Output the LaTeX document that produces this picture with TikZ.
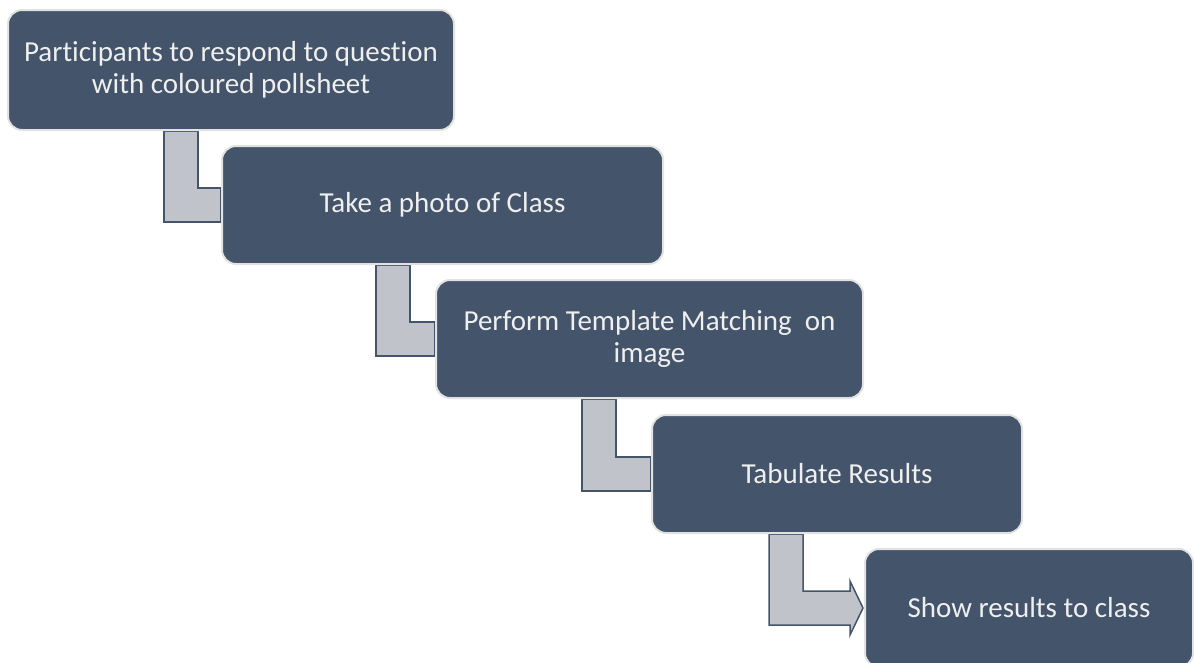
\documentclass[tikz,border=0pt]{standalone}
\usepackage{fontspec}
\setmainfont{Carlito}[Ligatures=NoCommon]
\usepackage{tikz}
\usetikzlibrary{calc, backgrounds}
\definecolor{slate}{HTML}{44546A}
\definecolor{elbowgray}{HTML}{C0C4CA}
\definecolor{rim}{HTML}{E2E2E2}
\definecolor{paper}{HTML}{EFEFEF}

% bent connector: source, target, distance of the bar from the target
\newcommand{\elbow}[3]{%
	\filldraw[conn] ($(#1.south -| #2.west)+(-#3-17,0)$) -- ($(#1.south -| #2.west)+(-#3+17,0)$)
	-- ($(#2.west)+(-#3+17,17)$) -- ($(#2.west)+(0,17)$) -- ($(#2.west)+(0,-17)$)
	-- ($(#2.west)+(-#3-17,-17)$) -- cycle;}

\begin{document}
\begin{tikzpicture}[
			x=1pt, y=1pt,
			stepbox/.style={draw=rim, line width=2pt, fill=slate, rounded corners=14pt,
				minimum height=118pt, inner sep=0pt, align=center, text=paper,
				font=\fontsize{29}{32}\selectfont},
			conn/.style={fill=elbowgray, draw=slate, line width=1.5pt, line join=miter}
			]
			\useasboundingbox (0,0) rectangle (1194,-662);
			\clip (0,0) rectangle (1194,-662);
			
			% Nodes
			\node[stepbox, minimum width=446pt, minimum height=120pt] (poll) at (231,-70)
			{Participants to respond to question\\with coloured pollsheet};
			\node[stepbox, minimum width=441pt] (photo) at (442.5,-205) {Take a photo of Class};
			\node[stepbox, minimum width=427pt] (match) at (649.5,-339)
			{Perform Template Matching\ \ on\\image};
			\node[stepbox, minimum width=370pt] (tab) at (837,-474) {Tabulate Results};
			\node[stepbox, minimum width=328pt] (show) at (1029,-608) {Show results to class};
			
			% Connectors
			\begin{scope}[on background layer]
				\elbow{poll}{photo}{40}
				\elbow{photo}{match}{42}
				\elbow{match}{tab}{52}
				\filldraw[conn] ($(tab.south -| show.west)+(-95,0)$) -- ($(tab.south -| show.west)+(-61,0)$)
				-- ($(show.west)+(-61,17)$) -- ($(show.west)+(-14,17)$) -- ($(show.west)+(-14,27)$)
				-- ($(show.west)+(-1,0)$) -- ($(show.west)+(-14,-27)$) -- ($(show.west)+(-14,-17)$)
				-- ($(show.west)+(-95,-17)$) -- cycle;
			\end{scope}
			
		\end{tikzpicture}
\end{document}
